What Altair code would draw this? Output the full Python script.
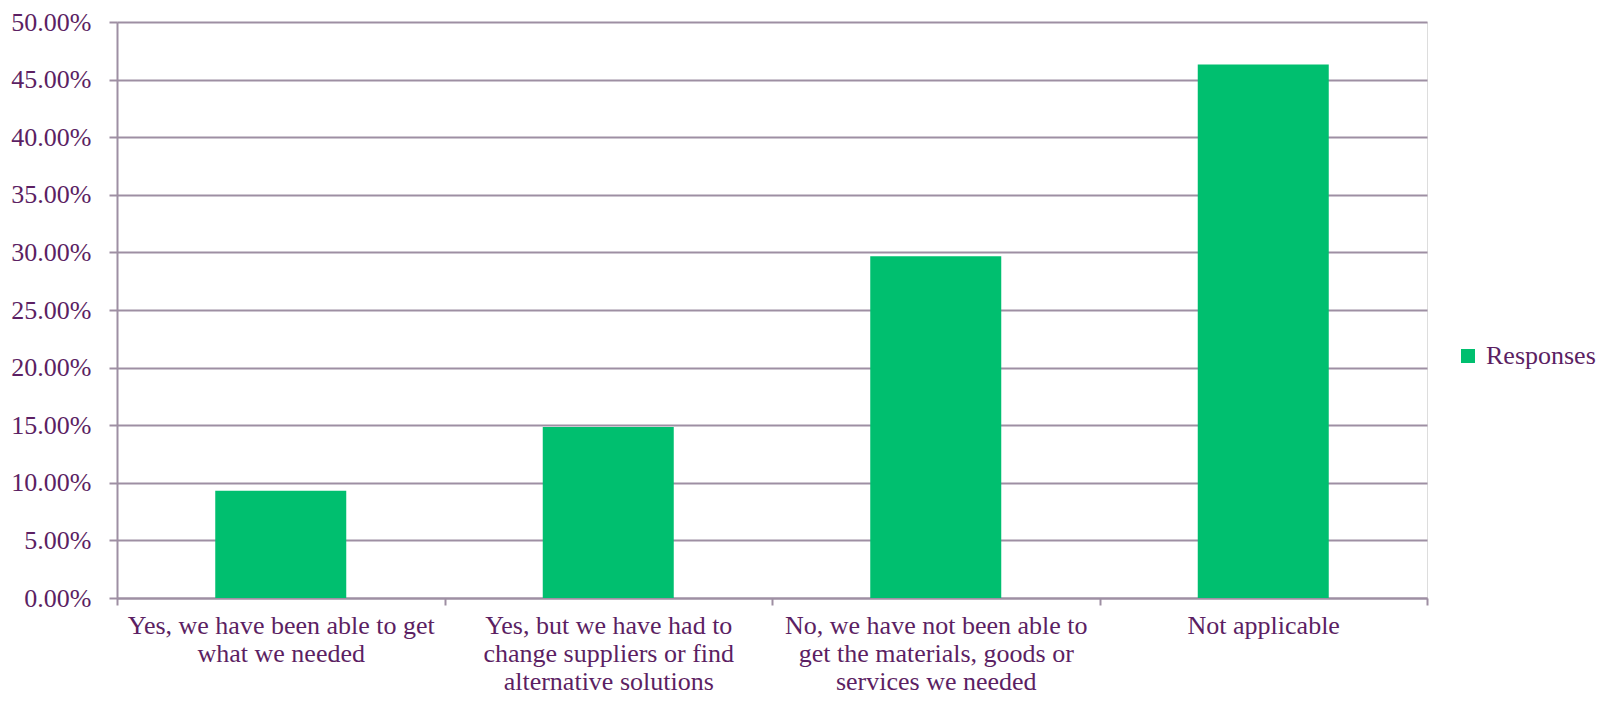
import altair as alt
import pandas as pd

categories = [
    "Yes, we have been able to get what we needed",
    "Yes, but we have had to change suppliers or find alternative solutions",
    "No, we have not been able to get the materials, goods or services we needed",
    "Not applicable",
]
label_lines = [
    ["Yes, we have been able to get", "what we needed"],
    ["Yes, but we have had to", "change suppliers or find", "alternative solutions"],
    ["No, we have not been able to", "get the materials, goods or", "services we needed"],
    ["Not applicable"],
]
values = [0.0931, 0.1485, 0.2966, 0.4632]
series = ["Responses"] * 4
y_ticks = [i * 0.05 for i in range(11)]

df = pd.DataFrame({"category": categories, "value": values, "series": series})

mapping = " : ".join(
    f"datum.label === {repr(c)} ? {repr(l)}" for c, l in zip(categories, label_lines)
) + " : datum.label"

text_color = "#5C1F63"
grid_color = "#9E8FA3"
font = "Liberation Serif"

chart = (
    alt.Chart(df)
    .mark_bar(color="#00BF6F", width={"band": 0.4})
    .encode(
        x=alt.X(
            "category:N",
            sort=categories,
            scale=alt.Scale(paddingInner=0, paddingOuter=0),
            axis=alt.Axis(
                title=None,
                labelAngle=0,
                labelExpr=mapping,
                labelFont=font,
                labelFontSize=26,
                labelColor=text_color,
                labelLineHeight=28,
                labelPadding=7,
                labelLimit=400,
                tickBand="extent",
                tickSize=7,
                tickColor=grid_color,
                tickWidth=2,
                domainColor=grid_color,
                domainWidth=2,
                grid=False,
            ),
        ),
        y=alt.Y(
            "value:Q",
            scale=alt.Scale(domain=[0, 0.5], nice=False),
            axis=alt.Axis(
                title=None,
                format=".2%",
                values=y_ticks,
                labelFont=font,
                labelFontSize=26,
                labelColor=text_color,
                labelPadding=18,
                tickSize=8,
                tickColor=grid_color,
                tickWidth=2,
                domainColor=grid_color,
                domainWidth=2,
                gridColor=grid_color,
                gridWidth=2,
                gridOpacity=1,
            ),
        ),
        color=alt.Color(
            "series:N",
            scale=alt.Scale(range=["#00BF6F"]),
            legend=alt.Legend(
                title=None,
                orient="none",
                legendX=1338,
                legendY=321,
                symbolType="square",
                symbolSize=196,
                symbolStrokeWidth=0,
                labelFont=font,
                labelFontSize=26,
                labelColor=text_color,
                labelOffset=5,
                padding=0,
            ),
        ),
    )
    .properties(
        width=1310,
        height=576,
        autosize=alt.AutoSizeParams(type="none"),
        padding={"left": 109, "top": 14, "right": 176, "bottom": 96},
    )
    .configure_view(stroke=None)
    .configure(background="white")
)

chart.save("out.html", embed_options={"renderer": "svg", "actions": False})
